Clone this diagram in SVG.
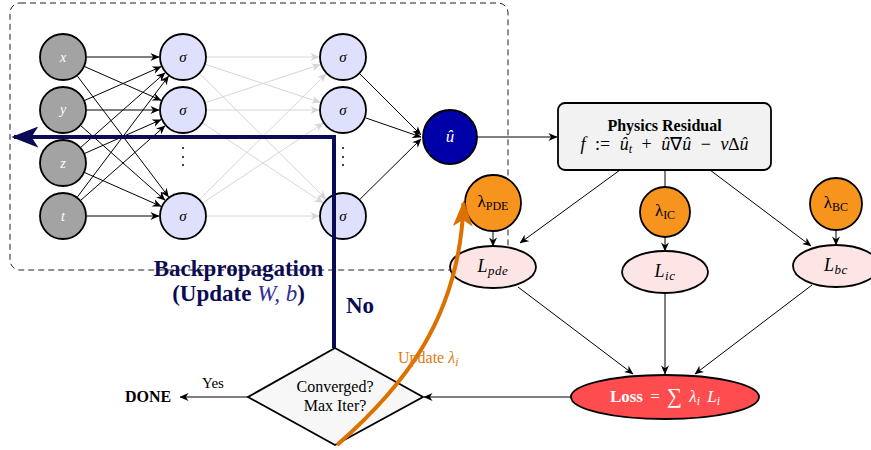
<svg xmlns="http://www.w3.org/2000/svg" width="871" height="450" viewBox="0 0 871 450">
<defs>
<style>
text{font-family:"Liberation Serif","Times New Roman",serif}
.inp{fill:#a3a3a3;stroke:#000;stroke-width:1.8}
.hid{fill:#dfe0fb;stroke:#000;stroke-width:1.8}
.lam{fill:#f7941d;stroke:#000;stroke-width:1.8}
.lel{fill:#fde5e6;stroke:#000;stroke-width:1.8}
.blk{stroke:#000;stroke-width:1;fill:none;marker-end:url(#aB)}
.gry{stroke:#d6d6d6;stroke-width:1;fill:none;marker-end:url(#aG)}
.lin{stroke:#000;stroke-width:1;fill:none}
.it{font-style:italic}
</style>
<marker id="aB" viewBox="0 0 10 10" refX="9.5" refY="5" markerWidth="9" markerHeight="8" markerUnits="userSpaceOnUse" orient="auto" preserveAspectRatio="none"><path d="M0,0 L10,5 L0,10 L3,5 z" fill="#000"/></marker>
<marker id="aG" viewBox="0 0 10 10" refX="9.5" refY="5" markerWidth="9" markerHeight="8" markerUnits="userSpaceOnUse" orient="auto" preserveAspectRatio="none"><path d="M0,0 L10,5 L0,10 L3,5 z" fill="#d6d6d6"/></marker>
<marker id="aN" viewBox="0 0 10 10" refX="9" refY="5" markerWidth="27" markerHeight="21" markerUnits="userSpaceOnUse" orient="auto" preserveAspectRatio="none"><path d="M0,0 L10,5 L0,10 L2.5,5 z" fill="#0b0b55"/></marker>
<marker id="aO" viewBox="0 0 10 10" refX="9" refY="5" markerWidth="26" markerHeight="20" markerUnits="userSpaceOnUse" orient="auto" preserveAspectRatio="none"><path d="M0,0 L10,5 L0,10 L2.5,5 z" fill="#dd7100"/></marker>
</defs>
<rect width="871" height="450" fill="#fff"/>

<rect id="netbox" x="10" y="3" width="498" height="267" rx="10" fill="none" stroke="#222" stroke-width="1" stroke-dasharray="6 4"/>

<g id="connectors">
<line class="blk" x1="87" y1="57" x2="159" y2="57"/>
<line class="blk" x1="84.95" y1="66.7" x2="161.05" y2="100.3"/>
<line class="blk" x1="77.46" y1="76.16" x2="168.54" y2="196.84"/>
<line class="blk" x1="84.95" y1="100.3" x2="161.05" y2="66.7"/>
<line class="blk" x1="87" y1="110" x2="159" y2="110"/>
<line class="blk" x1="80.99" y1="125.89" x2="165.01" y2="200.11"/>
<line class="blk" x1="80.99" y1="147.11" x2="165.01" y2="72.89"/>
<line class="blk" x1="84.95" y1="153.3" x2="161.05" y2="119.7"/>
<line class="blk" x1="84.95" y1="172.7" x2="161.05" y2="206.3"/>
<line class="blk" x1="77.46" y1="196.84" x2="168.54" y2="76.16"/>
<line class="blk" x1="80.99" y1="200.11" x2="165.01" y2="125.89"/>
<line class="blk" x1="87" y1="216" x2="159" y2="216"/>

<line class="gry" x1="207" y1="57" x2="319" y2="57"/>
<line class="gry" x1="205.78" y1="64.55" x2="320.22" y2="102.45"/>
<line class="gry" x1="200.02" y1="73.92" x2="325.98" y2="199.08"/>
<line class="gry" x1="205.78" y1="102.45" x2="320.22" y2="64.55"/>
<line class="gry" x1="207" y1="110" x2="319" y2="110"/>
<line class="gry" x1="203.01" y1="123.26" x2="322.99" y2="202.74"/>
<line class="gry" x1="200.02" y1="199.08" x2="325.98" y2="73.92"/>
<line class="gry" x1="203.01" y1="202.74" x2="322.99" y2="123.26"/>
<line class="gry" x1="207" y1="216" x2="319" y2="216"/>

<line class="blk" x1="360" y1="74" x2="421" y2="135"/>
<line class="blk" x1="365.7" y1="117.9" x2="421" y2="137"/>
<line class="blk" x1="360.1" y1="199.1" x2="421" y2="139"/>

<line class="blk" x1="477" y1="137" x2="557" y2="137"/>
<line class="blk" x1="620" y1="170" x2="520" y2="243"/>
<line class="lin" x1="665" y1="170" x2="665" y2="187"/>
<line class="blk" x1="710" y1="170" x2="811" y2="246"/>
<line class="blk" x1="493" y1="231" x2="493" y2="246"/>
<line class="blk" x1="665" y1="237" x2="665" y2="251"/>
<line class="blk" x1="836" y1="230" x2="836" y2="245"/>
<line class="blk" x1="518" y1="287" x2="633" y2="374"/>
<line class="blk" x1="665" y1="293" x2="665" y2="374"/>
<line class="blk" x1="812" y1="285" x2="695" y2="374"/>
<line class="blk" x1="571" y1="397" x2="424" y2="397"/>
<line class="blk" x1="248" y1="397" x2="180" y2="397"/>
</g>

<g id="in-x"><circle class="inp" cx="63" cy="57" r="23"/><text x="63" y="62" font-size="14" fill="#fff" class="it" text-anchor="middle">x</text></g>
<g id="in-y"><circle class="inp" cx="63" cy="110" r="23"/><text x="63" y="114" font-size="14" fill="#fff" class="it" text-anchor="middle">y</text></g>
<g id="in-z"><circle class="inp" cx="63" cy="163" r="23"/><text x="63" y="168" font-size="14" fill="#fff" class="it" text-anchor="middle">z</text></g>
<g id="in-t"><circle class="inp" cx="63" cy="216" r="23"/><text x="63" y="221" font-size="14" fill="#fff" class="it" text-anchor="middle">t</text></g>

<g id="h1-1"><circle class="hid" cx="183" cy="57" r="23"/><text x="183" y="62" font-size="15" class="it" text-anchor="middle">σ</text></g>
<g id="h1-2"><circle class="hid" cx="183" cy="110" r="23"/><text x="183" y="115" font-size="15" class="it" text-anchor="middle">σ</text></g>
<g id="h1-dots" fill="#000"><circle cx="183" cy="148" r="1"/><circle cx="183" cy="157" r="1"/><circle cx="183" cy="165" r="1"/></g>
<g id="h1-n"><circle class="hid" cx="183" cy="216" r="23"/><text x="183" y="221" font-size="15" class="it" text-anchor="middle">σ</text></g>

<g id="h2-1"><circle class="hid" cx="343" cy="57" r="23"/><text x="343" y="62" font-size="15" class="it" text-anchor="middle">σ</text></g>
<g id="h2-2"><circle class="hid" cx="343" cy="110" r="23"/><text x="343" y="115" font-size="15" class="it" text-anchor="middle">σ</text></g>
<g id="h2-dots" fill="#000"><circle cx="343" cy="148" r="1"/><circle cx="343" cy="157" r="1"/><circle cx="343" cy="165" r="1"/></g>
<g id="h2-n"><circle class="hid" cx="343" cy="216" r="23"/><text x="343" y="221" font-size="15" class="it" text-anchor="middle">σ</text></g>

<g id="out-u"><circle cx="450" cy="137" r="27" fill="#0000a8" stroke="#000" stroke-width="1.8"/><text x="450" y="142" font-size="17" fill="#fff" class="it" text-anchor="middle">û</text></g>

<g id="physics"><rect x="558" y="103" width="213" height="67" rx="7" fill="#f2f2f2" stroke="#000" stroke-width="1.8"/>
<text x="664.5" y="131" font-size="16" font-weight="bold" text-anchor="middle">Physics Residual</text>
<text x="664.5" y="150" font-size="18" word-spacing="5" text-anchor="middle"><tspan class="it">f</tspan> := <tspan class="it">û</tspan><tspan class="it" font-size="12" dy="3">t</tspan><tspan dy="-3"> + </tspan><tspan class="it">û</tspan>∇<tspan class="it">û</tspan> − <tspan class="it">ν</tspan>∆<tspan class="it">û</tspan></text></g>

<g id="lam-pde"><circle class="lam" cx="493" cy="203" r="28"/><text x="493" y="207" font-size="17" text-anchor="middle">λ<tspan font-size="12" dy="3">PDE</tspan></text></g>
<g id="lam-ic"><circle class="lam" cx="665" cy="212" r="25"/><text x="665" y="216" font-size="17" text-anchor="middle">λ<tspan font-size="12" dy="3">IC</tspan></text></g>
<g id="lam-bc"><circle class="lam" cx="836" cy="204" r="26"/><text x="836" y="208" font-size="17" text-anchor="middle">λ<tspan font-size="12" dy="3">BC</tspan></text></g>

<g id="l-pde"><ellipse class="lel" cx="493" cy="267" rx="43" ry="21"/><text x="493" y="272" font-size="18" text-anchor="middle" letter-spacing="0.5"><tspan class="it">L</tspan><tspan class="it" font-size="13" dy="3">pde</tspan></text></g>
<g id="l-ic"><ellipse class="lel" cx="665" cy="272" rx="43" ry="21"/><text x="665" y="277" font-size="18" text-anchor="middle" letter-spacing="0.5"><tspan class="it">L</tspan><tspan class="it" font-size="13" dy="3">ic</tspan></text></g>
<g id="l-bc"><ellipse class="lel" cx="836" cy="266" rx="43" ry="21"/><text x="836" y="271" font-size="18" text-anchor="middle" letter-spacing="0.5"><tspan class="it">L</tspan><tspan class="it" font-size="13" dy="3">bc</tspan></text></g>

<g id="loss"><ellipse cx="665" cy="397" rx="94" ry="22" fill="#ff4d4f" stroke="#000" stroke-width="1.8"/>
<text x="665" y="402" font-size="17" word-spacing="3" fill="#fff" text-anchor="middle"><tspan font-weight="bold">Loss</tspan> = <tspan font-size="21" dy="1">∑</tspan><tspan dy="-1"> </tspan><tspan class="it">λ</tspan><tspan class="it" font-size="12" dy="3">i</tspan><tspan class="it" dy="-3"> L</tspan><tspan class="it" font-size="12" dy="3">i</tspan></text></g>

<g id="decision"><polygon points="335,348 423,397 335,445 248,397" fill="#f7f7f7" stroke="#000" stroke-width="1.8"/>
<text x="335" y="392" font-size="16" text-anchor="middle">Converged?</text>
<text x="335" y="411" font-size="16" text-anchor="middle">Max Iter?</text></g>

<g id="done"><text x="148" y="402" font-size="16" font-weight="bold" text-anchor="middle">DONE</text></g>
<text x="213" y="388" font-size="15" text-anchor="middle">Yes</text>

<g id="backprop">
<path d="M334,348 L334,137 L14,137" fill="none" stroke="#0b0b55" stroke-width="4" marker-end="url(#aN)"/>
<text x="238.5" y="276" font-size="23" font-weight="bold" fill="#0b0b55" text-anchor="middle">Backpropagation</text>
<text x="238.5" y="301" font-size="23" font-weight="bold" fill="#0b0b55" text-anchor="middle">(Update <tspan class="it" font-weight="normal" fill="#2e2e96">W, b</tspan>)</text>
<text x="346" y="313" font-size="23" font-weight="bold" fill="#0b0b55">No</text>
</g>

<g id="update-lambda">
<path d="M337,445 C400,390 460,320 463.5,203" fill="none" stroke="#dd7100" stroke-width="4" marker-end="url(#aO)"/>
<text x="398" y="363" font-size="16" fill="#e07a10">Update <tspan class="it">λ</tspan><tspan class="it" font-size="12" dy="3">i</tspan></text>
</g>
</svg>
